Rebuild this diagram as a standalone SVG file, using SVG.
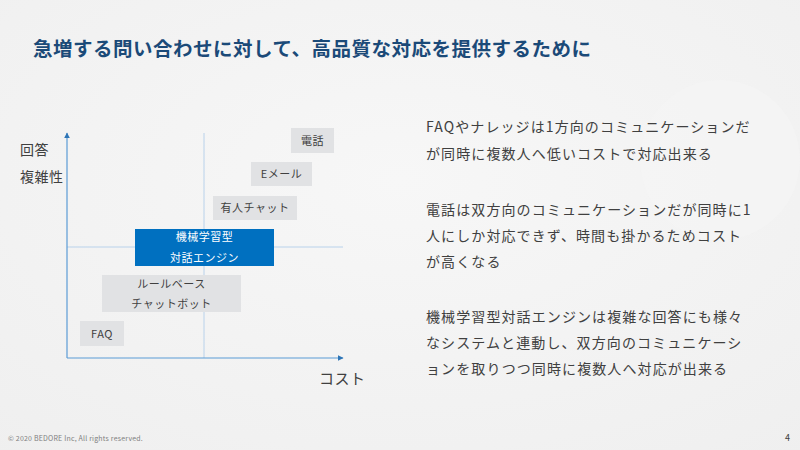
<svg xmlns="http://www.w3.org/2000/svg" width="800" height="450" viewBox="0 0 800 450">
<defs>
<style>
text{font-family:"Noto Sans CJK JP","Noto Sans",sans-serif}
.box{fill:#e1e2e4}
.bl{font-size:11px;fill:#404040;text-anchor:middle;letter-spacing:0.5px}
.wl{font-size:11px;fill:#ffffff;text-anchor:middle;letter-spacing:0.5px}
.ax{stroke:#5b9bd5;stroke-width:1.2;fill:none}
.mid{stroke:#a9c9e8;stroke-width:0.8;fill:none}
.body{font-size:14px;fill:#404040;letter-spacing:1.1px}
.lab{font-size:14px;fill:#404040;letter-spacing:0.5px}
</style>
<marker id="arr" viewBox="0 0 10 10" refX="9" refY="5" markerWidth="5" markerHeight="5" orient="auto">
<path d="M0,0 L10,5 L0,10 z" fill="#2e75b6"/>
</marker>
<radialGradient id="bgg" cx="0.5" cy="0.4" r="0.8">
<stop offset="0" stop-color="#f7f7f7"/>
<stop offset="1" stop-color="#efefef"/>
</radialGradient>
</defs>
<rect x="0" y="0" width="800" height="450" fill="url(#bgg)"/>
<circle cx="720" cy="160" r="80" fill="#f5f5f5" opacity="0.6"/>
<text x="33" y="56" style="font-size:19.5px;font-weight:bold;fill:#1b4a78;letter-spacing:0.5px">急増する問い合わせに対して、高品質な対応を提供するために</text>

<g id="connectors">
<line class="mid" x1="204" y1="133" x2="204" y2="358"/>
<line class="mid" x1="67" y1="247" x2="343" y2="247"/>
<line class="ax" x1="67" y1="358" x2="67" y2="133" marker-end="url(#arr)"/>
<line class="ax" x1="67" y1="358" x2="343" y2="358" marker-end="url(#arr)"/>
</g>

<g id="axis-y-label">
<text class="lab" x="20" y="155">回答</text>
<text class="lab" x="20" y="182">複雑性</text>
</g>
<g id="axis-x-label">
<text class="lab" x="319" y="384" style="font-size:15px">コスト</text>
</g>

<g id="node-phone">
<rect class="box" x="291" y="128" width="43" height="25"/>
<text class="bl" x="312.5" y="145">電話</text>
</g>
<g id="node-email">
<rect class="box" x="251" y="162" width="61" height="24"/>
<text class="bl" x="281.5" y="178">Eメール</text>
</g>
<g id="node-chat">
<rect class="box" x="213" y="196" width="84" height="24"/>
<text class="bl" x="255" y="212">有人チャット</text>
</g>
<g id="node-ml">
<rect x="135" y="229" width="139" height="37" fill="#0070c0"/>
<text class="wl" x="204.5" y="241">機械学習型</text>
<text class="wl" x="204.5" y="262">対話エンジン</text>
</g>
<g id="node-rule">
<rect class="box" x="102" y="275" width="139" height="37"/>
<text class="bl" x="171.5" y="288">ルールベース</text>
<text class="bl" x="171.5" y="308">チャットボット</text>
</g>
<g id="node-faq">
<rect class="box" x="80" y="321" width="44" height="25"/>
<text class="bl" x="102" y="338">FAQ</text>
</g>

<g id="description">
<text class="body" x="426" y="132">FAQやナレッジは1方向のコミュニケーションだ</text>
<text class="body" x="426" y="159">が同時に複数人へ低いコストで対応出来る</text>
<text class="body" x="426" y="215">電話は双方向のコミュニケーションだが同時に1</text>
<text class="body" x="426" y="241">人にしか対応できず、時間も掛かるためコスト</text>
<text class="body" x="426" y="267">が高くなる</text>
<text class="body" x="426" y="322">機械学習型対話エンジンは複雑な回答にも様々</text>
<text class="body" x="426" y="348">なシステムと連動し、双方向のコミュニケーシ</text>
<text class="body" x="426" y="374">ョンを取りつつ同時に複数人へ対応が出来る</text>
</g>

<text x="8" y="441" style="font-size:7px;fill:#7f7f7f;letter-spacing:0.2px">© 2020 BEDORE Inc, All rights reserved.</text>
<text x="785" y="441" style="font-size:9px;fill:#404040">4</text>
</svg>
